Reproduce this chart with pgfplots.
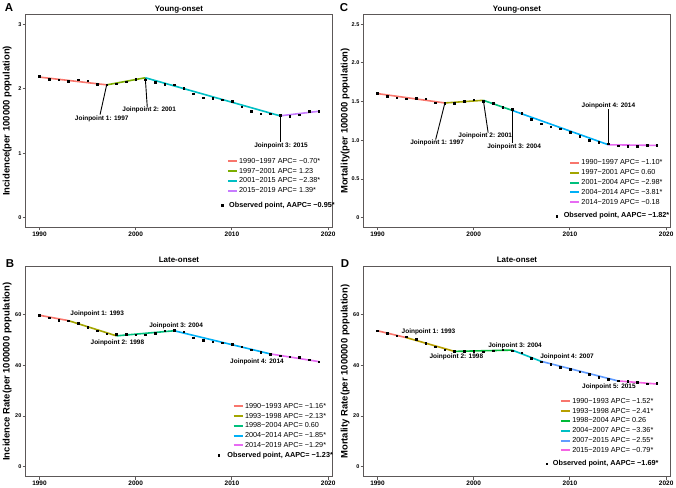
\documentclass[border=0pt]{standalone}
\usepackage{fontspec}
\setmainfont{Liberation Sans}
\usepackage{pgfplots}
\pgfplotsset{compat=1.18}

% ggplot hue palettes
\definecolor{gA1}{HTML}{F8766D}
\definecolor{gA2}{HTML}{7CAE00}
\definecolor{gA3}{HTML}{00BFC4}
\definecolor{gA4}{HTML}{C77CFF}
\definecolor{gB2}{HTML}{A3A500}
\definecolor{gB3}{HTML}{00BF7D}
\definecolor{gB4}{HTML}{00B0F6}
\definecolor{gB5}{HTML}{E76BF3}
\definecolor{gD2}{HTML}{B79F00}
\definecolor{gD3}{HTML}{00BA38}
\definecolor{gD4}{HTML}{00BFC4}
\definecolor{gD5}{HTML}{619CFF}
\definecolor{gD6}{HTML}{F564E3}
\definecolor{boxgray}{HTML}{5C5858}

\tikzset{jplab/.style={font=\bfseries\fontsize{6.5}{7}\selectfont, inner sep=0pt}}

% observed-point legend row: square at dx, text moved by dt, both lowered by dy
\newcommand{\obsentry}[4]{%
  \addlegendimage{legend image code/.code={\fill[black, overlay] (#1bp-0.8bp,#3bp-0.8bp) rectangle (#1bp+0.8bp,#3bp+0.8bp);}}
  \addlegendentry{\hspace*{#2bp}\raisebox{#3bp}[0pt][0pt]{\bfseries Observed point, AAPC= #4}}}

\pgfplotsset{
  panel/.style={
    scale only axis, anchor=south west, width=307bp,
    xmin=1988.55, xmax=2020.45, xtick={1990,2000,2010,2020},
    axis line style={draw=boxgray, line width=1.1bp},
    tick align=outside, major tick length=3bp,
    major tick style={draw=boxgray, line width=1bp},
    xtick pos=bottom, ytick pos=left,
    /pgf/number format/assume math mode=true,
    /pgf/number format/1000 sep={},
    x tick label style={font=\bfseries\fontsize{6.5}{7}\selectfont, inner sep=1bp},
    y tick label style={font=\bfseries\fontsize{5.5}{6}\selectfont, inner sep=1bp},
    title style={font=\bfseries\fontsize{8}{9}\selectfont, at={(0.5,1)}, anchor=south, yshift=-2bp, inner sep=0pt},
    ylabel style={font=\bfseries\fontsize{9.5}{10}\selectfont, at={(axis description cs:-0.06,0.5)}, anchor=center},
    legend style={draw=none, fill=none, inner sep=0pt, anchor=north west,
      font=\fontsize{7.3}{8}\selectfont,
      nodes={inner sep=1.4bp, text height=5.5bp, text depth=1.5bp}, row sep=0pt},
    legend cell align=left,
    legend image code/.code={\draw[##1, line width=2bp] (0bp,0bp) -- (9bp,0bp);},
  },
  seg/.style={line width=1.6bp},
  obs/.style={only marks, mark=square*, mark size=0.8bp, black, forget plot},
  conn/.style={black, line width=0.9bp, forget plot},
}

\begin{document}
\begin{tikzpicture}
\useasboundingbox (0,0) rectangle (676bp,488bp);

\node[font=\bfseries\fontsize{11.5}{12}\selectfont] at (9bp,480bp) {A};
\node[font=\bfseries\fontsize{11.5}{12}\selectfont] at (344bp,480bp) {C};
\node[font=\bfseries\fontsize{11.5}{12}\selectfont] at (10bp,224bp) {B};
\node[font=\bfseries\fontsize{11.5}{12}\selectfont] at (345bp,224bp) {D};

% ---------- A: young-onset incidence
\begin{axis}[panel, at={(25.5bp,260.5bp)}, height=213bp,
    ymin=-0.15, ymax=3.15, ytick={0,1,2,3},
    title={Young-onset}, title style={yshift=-3bp},
    ylabel={Incidence(per 100000 population)},
    legend style={at={(0.655,0.335)}}]
\addplot[gA1, seg] coordinates {(1990,2.18) (1997,2.06)};
\addlegendentry{1990−1997 APC= −0.70*}
\addplot[gA2, seg] coordinates {(1997,2.06) (2001,2.17)};
\addlegendentry{1997−2001 APC= 1.23}
\addplot[gA3, seg] coordinates {(2001,2.17) (2015,1.58)};
\addlegendentry{2001−2015 APC= −2.38*}
\addplot[gA4, seg] coordinates {(2015,1.58) (2019,1.65)};
\addlegendentry{2015−2019 APC= 1.39*}
\obsentry{-5.3}{-10}{-5}{−0.95*}
\addplot[obs] coordinates {
(1990,2.19) (1991,2.15) (1992,2.14) (1993,2.12) (1994,2.14) (1995,2.125)
(1996,2.07) (1997,2.06) (1998,2.08) (1999,2.11) (2000,2.15) (2001,2.14)
(2002,2.10) (2003,2.07) (2004,2.06) (2005,2.01) (2006,1.92) (2007,1.86)
(2008,1.85) (2009,1.83) (2010,1.81) (2011,1.72) (2012,1.65) (2013,1.61)
(2014,1.61) (2015,1.59) (2016,1.57) (2017,1.60) (2018,1.65) (2019,1.65)};
\addplot[conn] coordinates {(1997,2.07) (1996.3,1.60)};
\addplot[conn] coordinates {(2001,2.16) (2001.2,1.72)};
\addplot[conn] coordinates {(2015,1.59) (2015,1.17)};
\node[jplab] at (axis cs:1996.47,1.54) {Joinpoint 1: 1997};
\node[jplab] at (axis cs:2001.4,1.68) {Joinpoint 2: 2001};
\node[jplab] at (axis cs:2015.1,1.12) {Joinpoint 3: 2015};
\end{axis}

% ---------- C: young-onset mortality
\begin{axis}[panel, at={(363.5bp,260.5bp)}, height=213bp,
    ymin=-0.125, ymax=2.625, ytick={0,0.5,1,1.5,2,2.5},
    yticklabels={0,0.5,1.0,1.5,2.0,2.5},
    title={Young-onset}, title style={yshift=-3bp},
    ylabel={Mortality(per 100000 population)},
    legend style={at={(0.669,0.327)}}]
\addplot[gA1, seg] coordinates {(1990,1.604) (1997,1.483)};
\addlegendentry{1990−1997 APC= −1.10*}
\addplot[gB2, seg] coordinates {(1997,1.483) (2001,1.517)};
\addlegendentry{1997−2001 APC= 0.60}
\addplot[gB3, seg] coordinates {(2001,1.517) (2004,1.387)};
\addlegendentry{2001−2004 APC= −2.98*}
\addplot[gB4, seg] coordinates {(2004,1.387) (2014,0.943)};
\addlegendentry{2004−2014 APC= −3.81*}
\addplot[gB5, seg] coordinates {(2014,0.943) (2019,0.935)};
\addlegendentry{2014−2019 APC= −0.18}
\obsentry{-13.3}{-17.7}{-4}{−1.82*}
\addplot[obs] coordinates {
(1990,1.61) (1991,1.574) (1992,1.552) (1993,1.539) (1994,1.548) (1995,1.539)
(1996,1.487) (1997,1.478) (1998,1.478) (1999,1.504) (2000,1.526) (2001,1.509)
(2002,1.478) (2003,1.426) (2004,1.404) (2005,1.348) (2006,1.27) (2007,1.213)
(2008,1.178) (2009,1.148) (2010,1.109) (2011,1.057) (2012,1.0) (2013,0.974)
(2014,0.957) (2015,0.93) (2016,0.922) (2017,0.922) (2018,0.939) (2019,0.935)};
\addplot[conn] coordinates {(1997,1.48) (1996.05,1.01)};
\addplot[conn] coordinates {(2001,1.52) (2001.5,1.10)};
\addplot[conn] coordinates {(2004,1.40) (2004,0.965)};
\addplot[conn] coordinates {(2014,0.957) (2014,1.40)};
\node[jplab] at (axis cs:1996.2,0.965) {Joinpoint 1: 1997};
\node[jplab] at (axis cs:2001.2,1.06) {Joinpoint 2: 2001};
\node[jplab] at (axis cs:2004.2,0.92) {Joinpoint 3: 2004};
\node[jplab] at (axis cs:2014,1.45) {Joinpoint 4: 2014};
\end{axis}

% ---------- B: late-onset incidence
\begin{axis}[panel, at={(25.5bp,11.5bp)}, height=210bp,
    ymin=-3.75, ymax=78.75, ytick={0,20,40,60},
    title={Late-onset}, ylabel={Incidence Rate(per 1000000 population)},
    legend style={at={(0.674,0.359)}}]
\addplot[gA1, seg] coordinates {(1990,59.6) (1993,57.5)};
\addlegendentry{1990−1993 APC= −1.16*}
\addplot[gB2, seg] coordinates {(1993,57.5) (1998,51.5)};
\addlegendentry{1993−1998 APC= −2.13*}
\addplot[gB3, seg] coordinates {(1998,51.5) (2004,53.5)};
\addlegendentry{1998−2004 APC= 0.60}
\addplot[gB4, seg] coordinates {(2004,53.5) (2014,44.4)};
\addlegendentry{2004−2014 APC= −1.85*}
\addplot[gB5, seg] coordinates {(2014,44.4) (2019,41.4)};
\addlegendentry{2014−2019 APC= −1.29*}
\obsentry{-15}{-17.6}{0}{−1.23*}
\addplot[obs] coordinates {
(1990,59.7) (1991,58.6) (1992,57.6) (1993,57.4) (1994,56.5) (1995,54.9)
(1996,53.5) (1997,52.4) (1998,52.2) (1999,52.2) (2000,51.9) (2001,52.0)
(2002,52.5) (2003,53.6) (2004,53.7) (2005,53.1) (2006,50.8) (2007,49.9)
(2008,49.2) (2009,48.8) (2010,48.2) (2011,47.2) (2012,46.1) (2013,45.0)
(2014,44.3) (2015,43.7) (2016,43.3) (2017,43.0) (2018,42.1) (2019,41.3)};
\node[jplab] at (axis cs:1996.0,60.0) {Joinpoint 1: 1993};
\node[jplab] at (axis cs:1998.1,48.9) {Joinpoint 2: 1998};
\node[jplab] at (axis cs:2004.2,55.4) {Joinpoint 3: 2004};
\node[jplab] at (axis cs:2012.6,41.4) {Joinpoint 4: 2014};
\end{axis}

% ---------- D: late-onset mortality
\begin{axis}[panel, at={(363.5bp,11.5bp)}, height=210bp,
    ymin=-3.75, ymax=78.75, ytick={0,20,40,60},
    title={Late-onset}, ylabel={Mortality Rate(per 1000000 population)},
    legend style={at={(0.639,0.382)}}]
\addplot[gA1, seg] coordinates {(1990,53.5) (1993,50.8)};
\addlegendentry{1990−1993 APC= −1.52*}
\addplot[gD2, seg] coordinates {(1993,50.8) (1998,45.4)};
\addlegendentry{1993−1998 APC= −2.41*}
\addplot[gD3, seg] coordinates {(1998,45.4) (2004,45.9)};
\addlegendentry{1998−2004 APC= 0.26}
\addplot[gD4, seg] coordinates {(2004,45.9) (2007,41.5)};
\addlegendentry{2004−2007 APC= −3.36*}
\addplot[gD5, seg] coordinates {(2007,41.5) (2015,33.8)};
\addlegendentry{2007−2015 APC= −2.55*}
\addplot[gD6, seg] coordinates {(2015,33.8) (2019,32.6)};
\addlegendentry{2015−2019 APC= −0.79*}
\obsentry{-14.3}{-19.3}{-3.5}{−1.69*}
\addplot[obs] coordinates {
(1990,53.6) (1991,52.5) (1992,51.5) (1993,51.1) (1994,50.1) (1995,48.6)
(1996,47.2) (1997,46.0) (1998,45.4) (1999,45.4) (2000,45.5) (2001,45.2)
(2002,45.6) (2003,46.0) (2004,45.6) (2005,44.9) (2006,42.8) (2007,41.3)
(2008,40.3) (2009,39.2) (2010,38.3) (2011,37.4) (2012,36.5) (2013,35.3)
(2014,34.4) (2015,33.9) (2016,33.6) (2017,33.2) (2018,32.7) (2019,32.9)};
\node[jplab] at (axis cs:1995.3,53.2) {Joinpoint 1: 1993};
\node[jplab] at (axis cs:1998.2,43.4) {Joinpoint 2: 1998};
\node[jplab] at (axis cs:2004.3,47.6) {Joinpoint 3: 2004};
\node[jplab] at (axis cs:2009.7,43.2) {Joinpoint 4: 2007};
\node[jplab] at (axis cs:2014.05,31.4) {Joinpoint 5: 2015};
\end{axis}
\end{tikzpicture}
\end{document}
